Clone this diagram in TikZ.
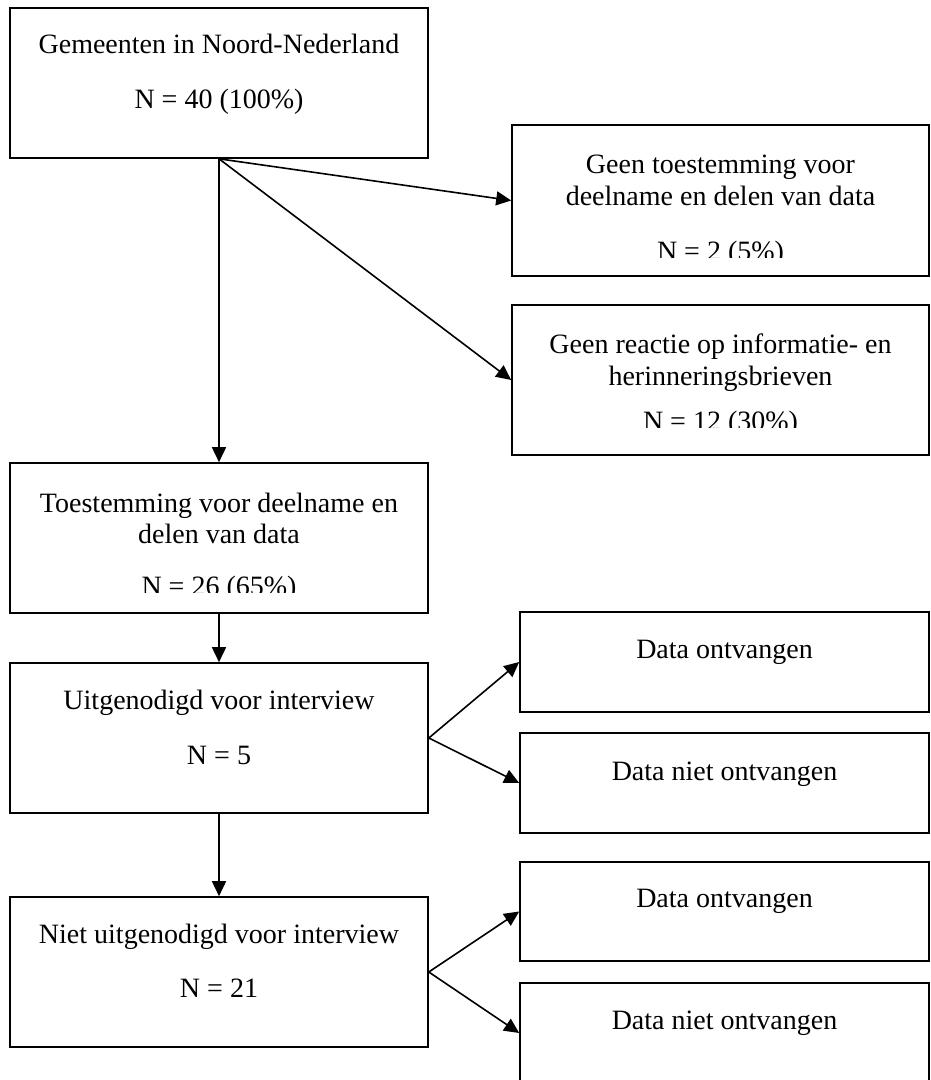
\documentclass[tikz,border=0pt]{standalone}
\usepackage{fontspec}
\setmainfont{Liberation Serif}
\usepackage{tikz}
\usetikzlibrary{arrows.meta,positioning}
\tikzset{every picture/.style={line width=1.6pt}}
\tikzstyle{vak}=[rectangle,draw,inner sep=0pt,minimum width=418pt,minimum height=150pt]
\tikzstyle{rvak}=[rectangle,draw,inner sep=0pt,minimum width=409pt,minimum height=100pt]
\tikzstyle{tekst}=[anchor=base,inner sep=0pt]

\begin{document}
\begin{tikzpicture}[x=1pt,y=-1pt,font=\fontsize{28}{33}\selectfont]
\clip (0,0) rectangle (930,1080);
\node[vak] (gem) at (219,83) {};
\node[vak,minimum width=417pt,minimum height=151pt] (geentoe) at (720.5,200.5) {};
\node[vak,minimum width=417pt] (geenreac) at (720.5,380) {};
\node[vak] (toe) at (219,538) {};
\node[vak] (uit) at (219,738) {};
\node[rvak] (uitja) at (724.5,662) {};
\node[rvak] (uitnee) at (724.5,783) {};
\node[vak] (niet) at (219,972) {};
\node[rvak,minimum height=99pt] (nietja) at (724.5,911.5) {};
\node[rvak] (nietnee) at (724.5,1033) {};
%teksten
\node[tekst] (gem1) at (219,53) {Gemeenten in Noord-Nederland};
\node[tekst] (gem2) at (219,108) {N = 40 (100\%)};
\node[tekst] (geentoe1) at (720.5,173) {Geen toestemming voor};
\node[tekst] (geentoe2) at (720.5,205) {deelname en delen van data};
\begin{scope}
\clip (512,125) rectangle (929,257);
\node[tekst] (geentoe3) at (720.5,260) {N = 2 (5\%)};
\end{scope}
\node[tekst] (geenreac1) at (720.5,353) {Geen reactie op informatie- en};
\node[tekst] (geenreac2) at (720.5,385) {herinneringsbrieven};
\begin{scope}
\clip (512,305) rectangle (929,427);
\node[tekst] (geenreac3) at (720.5,430) {N = 12 (30\%)};
\end{scope}
\node[tekst] (toe1) at (219,512) {Toestemming voor deelname en};
\node[tekst] (toe2) at (219,543) {delen van data};
\begin{scope}
\clip (10,463) rectangle (428,592);
\node[tekst] (toe3) at (219,595) {N = 26 (65\%)};
\end{scope}
\node[tekst] (uit1) at (219,709) {Uitgenodigd voor interview};
\node[tekst] (uit2) at (219,764) {N = 5};
\node[tekst] (uitja1) at (724.5,658) {Data ontvangen};
\node[tekst] (uitnee1) at (724.5,780) {Data niet ontvangen};
\node[tekst] (niet1) at (219,943) {Niet uitgenodigd voor interview};
\node[tekst] (niet2) at (219,997) {N = 21};
\node[tekst] (nietja1) at (724.5,907) {Data ontvangen};
\node[tekst] (nietnee1) at (724.5,1029) {Data niet ontvangen};
\path[->,>={Triangle[length=15pt,width=14pt]}]
(gem.south) edge (toe.north)
(gem.south) edge (geentoe.west)
(gem.south) edge (geenreac.west)
(toe.south) edge (uit.north)
(uit.east) edge (uitja.west)
(uit.east) edge (uitnee.west)
(uit.south) edge (niet.north)
(niet.east) edge (nietja.west)
(niet.east) edge (nietnee.west);
\end{tikzpicture}
\end{document}
